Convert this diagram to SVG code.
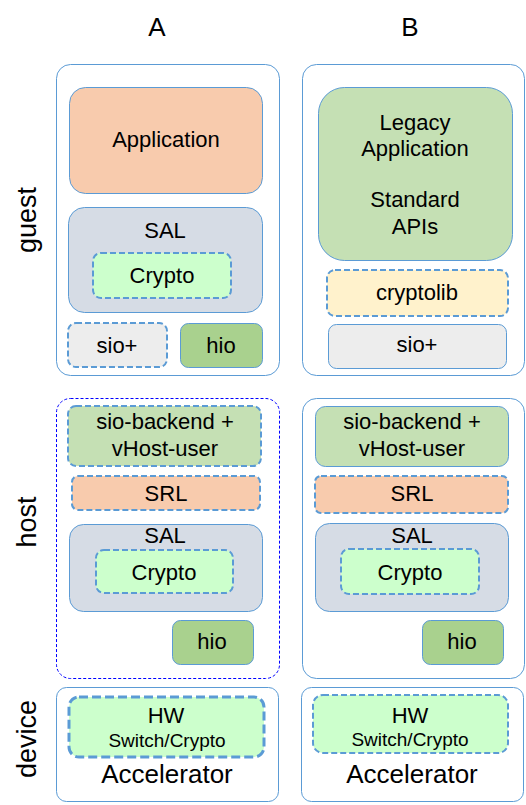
<svg xmlns="http://www.w3.org/2000/svg" width="526" height="805" viewBox="0 0 526 805">
<style>
text{font-family:"Liberation Sans",Arial,sans-serif;font-size:22px;fill:#000;text-anchor:middle}
.outer{fill:#fff;stroke:#5B9BD5;stroke-width:1}
.hostA{fill:#fff;stroke:#0000FF;stroke-width:1;stroke-dasharray:3,2}
.box{stroke:#5B9BD5;stroke-width:1}
.dash{stroke:#5B9BD5;stroke-width:2;stroke-dasharray:6,3}
.thick{stroke:#5B9BD5;stroke-width:3;stroke-dasharray:9,4}
.peach{fill:#F8CBAD}.grey{fill:#D6DCE5}.mint{fill:#CCFFCC}.light{fill:#EDEDED}.green{fill:#A9D18E}.sage{fill:#C5E0B4}.cream{fill:#FFF2CC}
.lbl{font-size:27px}
.col{font-size:26px}
.sub{font-size:19px}
.acc{font-size:26px}
</style>
<g id="headers">
<text class="col" x="157" y="36">A</text>
<text class="col" x="410" y="36">B</text>
<text class="lbl" transform="translate(36,220) rotate(-90)">guest</text>
<text class="lbl" transform="translate(36,522) rotate(-90)">host</text>
<text class="lbl" transform="translate(36,739) rotate(-90)">device</text>
</g>
<g id="guestA">
<rect class="outer" x="56.5" y="64.5" width="223" height="311" rx="14"/>
<g id="appA"><rect class="box peach" x="69.5" y="87.5" width="193" height="106" rx="16"/><text x="166" y="147">Application</text></g>
<g id="salGA"><rect class="box grey" x="68.5" y="207.5" width="194" height="105" rx="16"/><text x="165" y="238">SAL</text></g>
<g id="cryptoGA"><rect class="dash mint" x="93" y="253" width="138" height="45" rx="8"/><text x="162" y="283">Crypto</text></g>
<g id="sioGA"><rect class="dash light" x="68" y="323" width="99" height="44" rx="8"/><text x="117" y="353">sio+</text></g>
<g id="hioGA"><rect class="box green" x="180.5" y="323.5" width="82" height="44" rx="8"/><text x="221" y="353">hio</text></g>
</g>
<g id="guestB">
<rect class="outer" x="302.5" y="64.5" width="222" height="311" rx="14"/>
<g id="legacyB"><rect class="box sage" x="318.5" y="87.5" width="194" height="173" rx="26"/>
<text x="415" y="130">Legacy</text><text x="415" y="156">Application</text><text x="415" y="207">Standard</text><text x="415" y="234">APIs</text></g>
<g id="cryptolibB"><rect class="dash cream" x="327" y="270" width="181" height="46" rx="8"/><text x="417" y="300">cryptolib</text></g>
<g id="sioGB"><rect class="box light" x="328.5" y="324.5" width="178" height="44" rx="8"/><text x="417" y="352">sio+</text></g>
</g>
<g id="hostA">
<rect class="hostA" x="56.5" y="398.5" width="223" height="280" rx="14"/>
<g id="sbA"><rect class="dash sage" x="68" y="406" width="193" height="60" rx="8"/><text x="165" y="429">sio-backend +</text><text x="165" y="456">vHost-user</text></g>
<g id="srlA"><rect class="dash peach" x="72" y="476" width="188" height="34" rx="6"/><text x="166" y="501">SRL</text></g>
<g id="salHA"><rect class="box grey" x="69.5" y="524.5" width="193" height="87" rx="14"/><text x="165" y="543">SAL</text></g>
<g id="cryptoHA"><rect class="dash mint" x="96" y="550" width="137" height="43" rx="8"/><text x="164" y="580">Crypto</text></g>
<g id="hioHA"><rect class="box green" x="172.5" y="620.5" width="81" height="44" rx="8"/><text x="212" y="649">hio</text></g>
</g>
<g id="hostB">
<rect class="outer" x="302.5" y="398.5" width="222" height="280" rx="14"/>
<g id="sbB"><rect class="box sage" x="315.5" y="406.5" width="193" height="60" rx="10"/><text x="412" y="429">sio-backend +</text><text x="412" y="456">vHost-user</text></g>
<g id="srlB"><rect class="dash peach" x="315" y="476" width="193" height="37" rx="6"/><text x="412" y="501">SRL</text></g>
<g id="salHB"><rect class="box grey" x="315.5" y="523.5" width="193" height="88" rx="14"/><text x="412" y="543">SAL</text></g>
<g id="cryptoHB"><rect class="dash mint" x="341" y="549" width="138" height="45" rx="8"/><text x="410" y="580">Crypto</text></g>
<g id="hioHB"><rect class="box green" x="422.5" y="620.5" width="81" height="44" rx="8"/><text x="462" y="649">hio</text></g>
</g>
<g id="deviceA">
<rect class="outer" x="56.5" y="687.5" width="222" height="114" rx="10"/>
<g id="hwA"><rect class="thick mint" x="69" y="697" width="195" height="60" rx="10"/><text x="166" y="723">HW</text><text class="sub" x="167" y="747">Switch/Crypto</text></g>
<text class="acc" x="167" y="783">Accelerator</text>
</g>
<g id="deviceB">
<rect class="outer" x="301.5" y="687.5" width="222" height="114" rx="10"/>
<g id="hwB"><rect class="dash mint" x="313" y="695" width="195" height="58" rx="10"/><text x="410" y="723">HW</text><text class="sub" x="410" y="746">Switch/Crypto</text></g>
<text class="acc" x="412" y="783">Accelerator</text>
</g>
<g id="connectors"></g>
</svg>
